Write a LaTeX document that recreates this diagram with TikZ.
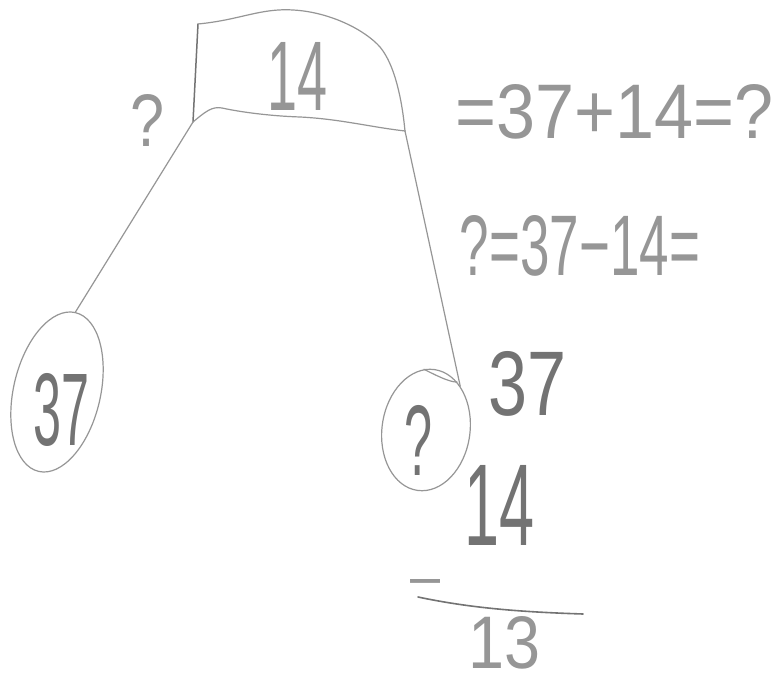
\documentclass[tikz,border=0pt]{standalone}
\usepackage{fontspec}
\setmainfont{Liberation Sans}
\usepackage{graphicx}
\usetikzlibrary{shapes.geometric}
\definecolor{pencil}{RGB}{150,150,150}
\definecolor{pencildark}{RGB}{115,115,115}
\newcommand\fitto[3]{\resizebox{#1pt}{#2pt}{#3}}
\begin{document}
\begin{tikzpicture}[x=1pt,y=-1pt,
  stroke/.style={draw=pencil, line width=1.2pt, line cap=round, line join=round},
  hand/.style={text=pencil, inner sep=0pt, outer sep=0pt},
  handdark/.style={text=pencildark, inner sep=0pt, outer sep=0pt},
  loop/.style={draw=pencil, line width=1.2pt, ellipse, inner sep=0pt}
]
\useasboundingbox[fill=white] (0,0) rectangle (780,684);

% the bar with 14
\coordinate (tl) at (198,24);
\coordinate (bl) at (193,122);
\coordinate (br) at (405,131);
\draw[stroke, draw=pencildark, line width=1.5pt] (tl) -- (bl);
\draw[stroke] (tl) .. controls (240,20) and (260,8) .. (293,10)
  .. controls (330,12) and (365,30) .. (380,47)
  .. controls (395,65) and (402,100) .. (br);
\draw[stroke] (bl) .. controls (205,112) and (212,106) .. (222,108)
  .. controls (240,112) and (270,116) .. (300,117)
  .. controls (340,119) and (370,127) .. (br);
\node[hand] (n14) at (298,76) {\fitto{60}{68}{14}};
\node[hand] (qleft) at (148,120) {\fitto{34}{52}{?}};

% left loop with 37
\node[loop, minimum width=87pt, minimum height=163pt, rotate=-13] (e37) at (57,392) {};
\node[handdark] (n37) at (62,410) {\fitto{56}{72}{37}};

% right loop with ?
\node[loop, minimum width=88pt, minimum height=122pt, rotate=-8] (q) at (426,430) {};
\node[handdark] (qin) at (418,440) {\fitto{28}{70}{?}};
\draw[stroke] (q.100) .. controls ([xshift=12pt,yshift=-6pt]q.100) and ([xshift=-8pt]q.65) .. (q.65);

% connectors
\draw[stroke] (bl) -- (e37.north);
\draw[stroke] (br) -- (q.60);

% equations on the right
\node[hand] (eq1) at (615,112) {\fitto{318}{54}{=37+14=?}};
\node[hand] (eq2) at (580,246) {\fitto{240}{60}{?=37−14=}};

% written subtraction
\node[handdark] (a37) at (528,384) {\fitto{78}{64}{37}};
\node[handdark] (a14) at (500,505) {\fitto{70}{80}{14}};
\node[hand] (minus) at (425,590) {\fitto{36}{20}{−}};
\coordinate (rs) at (418,597);
\coordinate (re) at (583,614);
\draw[stroke, draw=pencildark, line width=1.6pt] (rs) .. controls (470,608) and (520,612) .. (re);
\node[hand] (a13) at (505,643) {\fitto{72}{52}{13}};
\end{tikzpicture}
\end{document}
